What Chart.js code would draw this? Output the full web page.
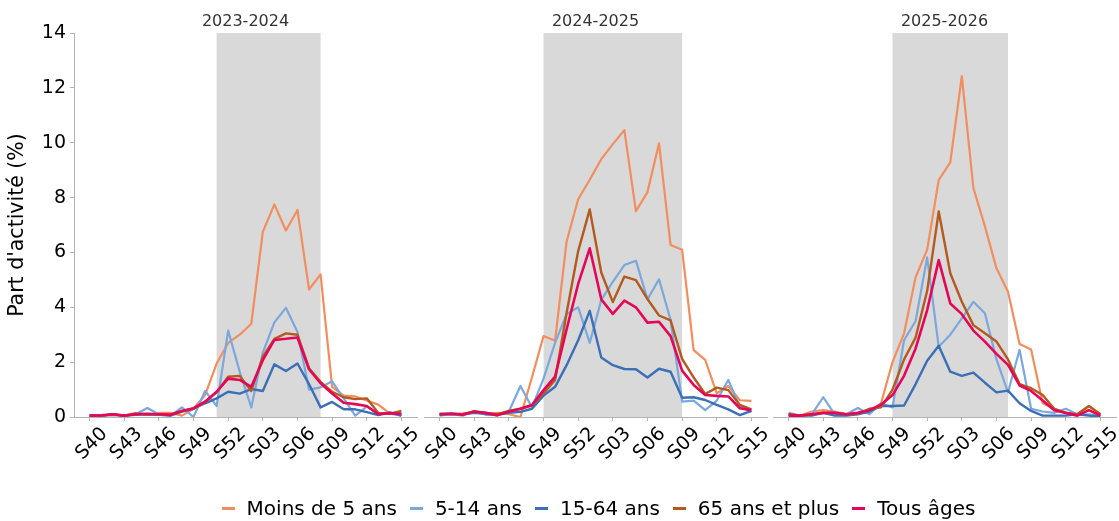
<!DOCTYPE html>
<html>
<head>
<meta charset="utf-8">
<script src="https://cdn.jsdelivr.net/npm/chart.js@4/dist/chart.umd.min.js"></script>
<style>
  html, body { margin: 0; padding: 0; background: #fff; }
  #wrap { position: relative; width: 1119px; height: 521px; overflow: hidden; }
  #wrap canvas { position: absolute; top: 0; }
  #legend {
    position: absolute; left: 39px; top: 496px; width: 1119px;
    display: flex; justify-content: center; align-items: center;
    font-family: "DejaVu Sans", sans-serif; font-size: 20px; color: #000;
    line-height: 24px; white-space: nowrap;
  }
  #legend .item { display: flex; align-items: center; margin: 0 6.5px; }
  #legend .sw { width: 13px; height: 3px; margin-right: 12px; }
</style>
</head>
<body>
<div id="wrap">
  <canvas id="p1" width="420" height="521" style="left:0px;width:420px;height:521px"></canvas>
  <canvas id="p2" width="350" height="521" style="left:420px;width:350px;height:521px"></canvas>
  <canvas id="p3" width="349" height="521" style="left:770px;width:349px;height:521px"></canvas>
  <div id="legend"></div>
</div>
<script>
// Weeks of the season (S40 -> S15)
const weeks = ['S40','S41','S42','S43','S44','S45','S46','S47','S48','S49','S50','S51','S52',
               'S01','S02','S03','S04','S05','S06','S07','S08','S09','S10','S11','S12','S13','S14','S15'];
const weekTickIdx = [0, 3, 6, 9, 12, 15, 18, 21, 24, 27];
const yTicks = [0, 2, 4, 6, 8, 10, 12, 14];

const seasons = ['2023-2024', '2024-2025', '2025-2026'];
const groupNames = ['Moins de 5 ans', '5-14 ans', '15-64 ans', '65 ans et plus', 'Tous âges'];
const groupColors = ['#f28e5e', '#7ba8dc', '#3b6fb6', '#b35a1f', '#e5065a'];
const groupWidths = [2.2, 2.2, 2.4, 2.4, 2.6];

// Epidemic period (week index start / end) per season
const epidemic2324 = [11, 20];
const epidemic2425 = [9, 21];
const epidemic2526 = [9, 19];

// Share of activity (%) — season 2023-2024
const moins5_2324 = [0.05,0.05,0.08,0.05,0.15,0.08,0.15,0.15,0.05,0.3,0.8,1.95,2.7,3.0,3.4,6.75,7.75,6.8,7.55,4.65,5.2,1.1,0.78,0.75,0.6,0.45,0.12,0.15];
const a514_2324   = [0.05,0.05,0.1,0.05,0.1,0.33,0.1,0.05,0.35,0.0,0.95,0.4,3.15,1.65,0.35,2.35,3.45,3.98,3.1,1.0,1.08,1.3,0.68,0.05,0.38,0.12,0.12,0.05];
const a1564_2324  = [0.05,0.05,0.08,0.05,0.08,0.1,0.08,0.05,0.2,0.3,0.5,0.68,0.92,0.85,1.02,0.95,1.92,1.68,1.95,1.2,0.35,0.55,0.28,0.28,0.18,0.07,0.17,0.05];
const plus65_2324 = [0.05,0.05,0.1,0.05,0.12,0.1,0.1,0.08,0.22,0.3,0.55,0.9,1.47,1.5,0.95,2.2,2.85,3.05,3.0,1.78,1.28,0.92,0.72,0.65,0.68,0.15,0.12,0.22];
const tous_2324   = [0.05,0.06,0.1,0.05,0.1,0.12,0.1,0.08,0.22,0.32,0.56,0.92,1.4,1.35,1.1,2.07,2.81,2.85,2.9,1.74,1.23,0.86,0.52,0.47,0.4,0.1,0.14,0.11];

// Share of activity (%) — season 2024-2025
const moins5_2425 = [0.1,0.08,0.12,0.18,0.1,0.15,0.1,0.0,1.45,2.95,2.78,6.4,7.94,8.65,9.4,9.95,10.46,7.5,8.2,9.98,6.27,6.1,2.44,2.08,0.86,1.13,0.61,0.59];
const a514_2425   = [0.05,0.1,0.05,0.22,0.08,0.08,0.2,1.13,0.35,1.4,2.7,3.75,4.0,2.7,4.27,4.93,5.54,5.7,4.29,5.02,3.54,0.56,0.6,0.25,0.6,1.35,0.38,0.19];
const a1564_2425  = [0.08,0.12,0.1,0.15,0.12,0.08,0.15,0.19,0.3,0.78,1.1,1.89,2.8,3.87,2.17,1.89,1.75,1.74,1.44,1.76,1.65,0.7,0.72,0.62,0.44,0.28,0.07,0.22];
const plus65_2425 = [0.12,0.12,0.1,0.2,0.15,0.1,0.22,0.3,0.42,0.86,1.35,3.8,6.05,7.57,5.27,4.19,5.12,4.99,4.3,3.7,3.52,2.12,1.44,0.84,1.07,0.98,0.44,0.28];
const tous_2425   = [0.1,0.12,0.08,0.2,0.15,0.06,0.2,0.3,0.44,0.98,1.47,3.2,4.85,6.15,4.29,3.76,4.24,4.0,3.44,3.47,2.95,1.69,1.17,0.8,0.77,0.75,0.32,0.25];

// Share of activity (%) — season 2025-2026
const moins5_2526 = [0.1,0.05,0.2,0.25,0.2,0.1,0.15,0.2,0.5,2.0,3.05,5.1,6.1,8.64,9.28,12.43,8.35,6.95,5.42,4.57,2.66,2.46,0.5,0.3,0.15,0.1,0.4,0.1];
const a514_2526   = [0.15,0.05,0.1,0.72,0.1,0.1,0.33,0.1,0.5,0.35,2.8,3.5,5.82,2.56,3.0,3.6,4.2,3.78,2.1,0.9,2.45,0.3,0.2,0.15,0.3,0.1,0.1,0.05];
const a1564_2526  = [0.1,0.05,0.05,0.15,0.05,0.05,0.1,0.2,0.4,0.4,0.42,1.2,2.05,2.6,1.65,1.5,1.62,1.25,0.9,0.96,0.5,0.22,0.05,0.05,0.05,0.1,0.05,0.02];
const plus65_2526 = [0.1,0.05,0.1,0.15,0.15,0.1,0.12,0.3,0.35,1.0,2.1,2.9,4.6,7.49,5.24,4.2,3.35,3.05,2.75,2.1,1.2,1.05,0.8,0.3,0.15,0.1,0.4,0.1];
const tous_2526   = [0.05,0.05,0.1,0.15,0.15,0.1,0.15,0.25,0.45,0.8,1.5,2.5,3.9,5.72,4.14,3.75,3.15,2.75,2.3,1.9,1.15,0.95,0.6,0.25,0.15,0.05,0.25,0.05];

const seriesBySeason = [
  [moins5_2324, a514_2324, a1564_2324, plus65_2324, tous_2324],
  [moins5_2425, a514_2425, a1564_2425, plus65_2425, tous_2425],
  [moins5_2526, a514_2526, a1564_2526, plus65_2526, tous_2526]
];
const epidemics = [epidemic2324, epidemic2425, epidemic2526];

const FONT = '"DejaVu Sans", sans-serif';
const AXIS_GREY = '#b3b3b3';

// Shaded epidemic period behind the curves
const spanPlugin = {
  id: 'epiSpan',
  beforeDatasetsDraw(chart, args, opts) {
    const { ctx, chartArea, scales } = chart;
    const x0 = scales.x.getPixelForValue(opts.range[0]);
    const x1 = scales.x.getPixelForValue(opts.range[1]);
    ctx.save();
    ctx.fillStyle = '#d9d9d9';
    ctx.fillRect(x0, chartArea.top, x1 - x0, chartArea.bottom - chartArea.top);
    ctx.restore();
  }
};

function makePanel(id, k, padLeft, padRight, showY) {
  const data = seriesBySeason[k];
  const drawOrder = [4, 3, 2, 1, 0];
  const datasets = data.map((vals, g) => ({
    label: groupNames[g],
    data: vals.map((v, i) => ({ x: i, y: v })),
    borderColor: groupColors[g],
    backgroundColor: groupColors[g],
    borderWidth: groupWidths[g],
    pointRadius: 0,
    tension: 0,
    fill: false,
    order: drawOrder[g],
    borderJoinStyle: 'round',
    borderCapStyle: 'butt'
  }));

  return new Chart(document.getElementById(id), {
    type: 'line',
    data: { datasets },
    plugins: [spanPlugin],
    options: {
      responsive: false,
      animation: false,
      events: [],
      layout: { padding: { left: padLeft, right: padRight, top: 0, bottom: 0 } },
      plugins: {
        legend: { display: false },
        tooltip: { enabled: false },
        epiSpan: { range: epidemics[k] },
        title: {
          display: true,
          text: seasons[k],
          fullSize: false,
          color: '#333333',
          font: { family: FONT, size: 16, weight: 'normal' },
          padding: { top: 12, bottom: 1.8 }
        }
      },
      scales: {
        x: {
          type: 'linear',
          min: -1.35,
          max: 28.35,
          afterBuildTicks(scale) { scale.ticks = weekTickIdx.map(v => ({ value: v })); },
          afterFit(scale) {
            scale.height = 104;
            scale.paddingLeft = 0;
            scale.paddingRight = 0;
          },
          ticks: {
            autoSkip: false,
            maxRotation: 45,
            minRotation: 45,
            labelOffset: 15,
            padding: 2,
            color: '#000',
            font: { family: FONT, size: 19 },
            callback: (v) => weeks[v]
          },
          grid: { display: true, drawOnChartArea: false, drawTicks: true, tickLength: 4, tickColor: AXIS_GREY },
          border: { display: true, color: AXIS_GREY, width: 1 }
        },
        y: {
          display: showY,
          min: 0,
          max: 14,
          afterBuildTicks(scale) { scale.ticks = yTicks.map(v => ({ value: v })); },
          afterFit(scale) { scale.width = showY ? 74 : 0; },
          ticks: {
            color: '#000',
            padding: 4,
            font: { family: FONT, size: 19 }
          },
          title: {
            display: true,
            text: "Part d'activité (%)",
            color: '#000',
            font: { family: FONT, size: 20.5 },
            padding: { top: 5, bottom: 0 }
          },
          grid: { display: true, drawOnChartArea: false, drawTicks: true, tickLength: 4, tickColor: AXIS_GREY },
          border: { display: true, color: AXIS_GREY, width: 1 }
        }
      }
    }
  });
}

makePanel('p1', 0, 0, 3, true);
makePanel('p2', 1, 4, 3, false);
makePanel('p3', 2, 3, 3, false);

// Legend entries
const legend = document.getElementById('legend');
groupNames.forEach((name, g) => {
  const item = document.createElement('div');
  item.className = 'item';
  const sw = document.createElement('span');
  sw.className = 'sw';
  sw.style.background = groupColors[g];
  const txt = document.createElement('span');
  txt.textContent = name;
  item.appendChild(sw);
  item.appendChild(txt);
  legend.appendChild(item);
});
</script>
</body>
</html>
